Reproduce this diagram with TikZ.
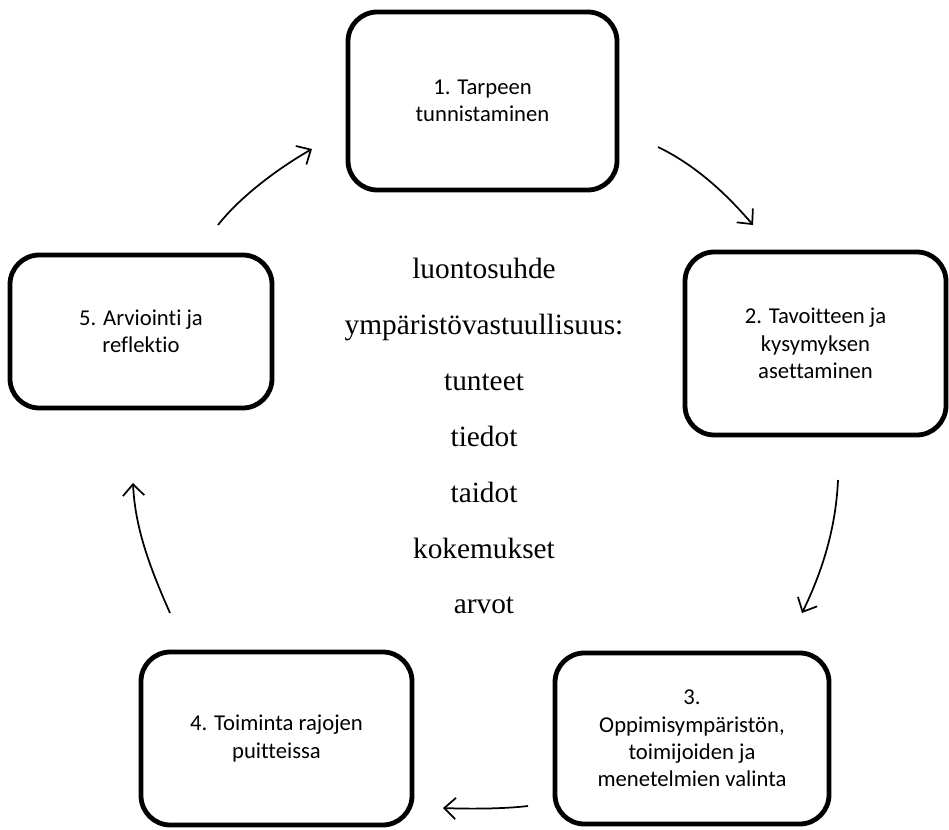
\documentclass[tikz,border=0pt]{standalone}
\usepackage{fontspec}
\setmainfont{Liberation Serif}
\newfontfamily\boxfont[Ligatures={NoCommon}]{Carlito}
\usetikzlibrary{arrows.meta}

\begin{document}
\begin{tikzpicture}[x=0.75pt,y=-0.75pt,
  stage/.style={draw=black, line width=3.6pt, rounded corners=22pt, fill=white,
    align=center, inner sep=0pt,
    font=\boxfont\fontsize{17}{20.5}\selectfont},
  flow/.style={line width=1.3pt,
    -{Straight Barb[length=8.5pt,width=16pt,line width=1.3pt]}},
  theme/.style={font=\fontsize{22}{26}\selectfont, anchor=base}]
\useasboundingbox (0,0) rectangle (949,830);

% the five stages of the cycle
\node[stage, minimum width=201.75pt, minimum height=133.5pt] (s1) at (482.5,101)
  {1. Tarpeen\\tunnistaminen};
\node[stage, minimum width=195.75pt, minimum height=137.25pt] (s2) at (815.5,343.5)
  {2. Tavoitteen ja\\kysymyksen\\asettaminen};
\node[stage, minimum width=205.5pt, minimum height=128.25pt] (s3) at (692,738.5)
  {3.\\Oppimisympäristön,\\toimijoiden ja\\menetelmien valinta};
\node[stage, minimum width=203.25pt, minimum height=129.75pt] (s4) at (276.5,738.5)
  {4. Toiminta rajojen\\puitteissa};
\node[stage, minimum width=196.5pt, minimum height=114.75pt] (s5) at (141,331.5)
  {5. Arviointi ja\\reflektio};

% themes in the middle
\node[theme] (t1) at (484,279) {luontosuhde};
\node[theme] (t2) at (484,334.8) {ympäristövastuullisuus:};
\node[theme] (t3) at (484,390.6) {tunteet};
\node[theme] (t4) at (484,446.4) {tiedot};
\node[theme] (t5) at (484,502.2) {taidot};
\node[theme] (t6) at (484,558) {kokemukset};
\node[theme] (t7) at (484,613.8) {arvot};

% arrow ends
\coordinate (a1s) at (658,147);  \coordinate (a1e) at (753,225);
\coordinate (a2s) at (838,480);  \coordinate (a2e) at (802,613);
\coordinate (a3s) at (528,806);  \coordinate (a3e) at (443,808);
\coordinate (a4s) at (170,613);  \coordinate (a4e) at (133,483);
\coordinate (a5s) at (218,225);  \coordinate (a5e) at (312,149);

% curved arrows between the stages
\draw[flow] (a1s) .. controls +(35,17) and +(-30,-35) .. (a1e);
\draw[flow] (a2s) .. controls +(-2,45) and +(22,-45) .. (a2e);
\draw[flow] (a3s) .. controls +(-25,3) and +(25,1) .. (a3e);
\draw[flow] (a4s) .. controls +(-20,-45) and +(2,45) .. (a4e);
\draw[flow] (a5s) .. controls +(22,-28) and +(-35,20) .. (a5e);
\end{tikzpicture}
\end{document}
